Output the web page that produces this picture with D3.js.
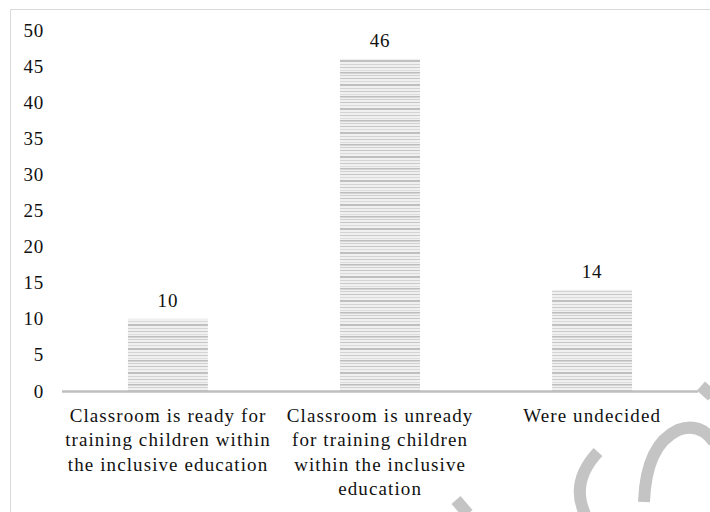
<!DOCTYPE html>
<html>
<head>
<meta charset="utf-8">
<script src="https://cdn.jsdelivr.net/npm/d3@7"></script>
<style>
  html, body { margin: 0; padding: 0; background: #fff; }
  svg { display: block; }
</style>
</head>
<body>
<script>
// chart values
const categories = [
  ["Classroom is ready for", "training children within", "the inclusive education"],
  ["Classroom is unready", "for training children", "within the inclusive", "education"],
  ["Were undecided"]
];
const values = [10, 46, 14];
const yTicks = [0, 5, 10, 15, 20, 25, 30, 35, 40, 45, 50];

const width = 710, height = 512;
const margin = {top: 30, right: 12, bottom: 121, left: 62};
const serif = "'Liberation Serif', 'Times New Roman', serif";

const svg = d3.select("body").append("svg")
    .attr("width", width)
    .attr("height", height)
    .style("font-family", serif);

// striped bar fill
const defs = svg.append("defs");
const pat = defs.append("pattern")
    .attr("id", "stripes")
    .attr("patternUnits", "userSpaceOnUse")
    .attr("width", 8)
    .attr("height", 24);
pat.append("rect").attr("width", 8).attr("height", 24).attr("fill", "#f0f0f0");
[[0, "#bdbdbd", 1.5], [3, "#d2d2d2", 1], [6, "#c6c6c6", 1], [9, "#dadada", 1],
 [12, "#c0c0c0", 2], [16, "#d4d4d4", 1], [19, "#cacaca", 1], [22, "#dedede", 1]]
  .forEach(([y, c, h]) => pat.append("rect").attr("y", y).attr("width", 8).attr("height", h).attr("fill", c));

// frame
svg.append("path")
    .attr("d", `M10.5,${height}V9.5H${width}`)
    .attr("fill", "none")
    .attr("stroke", "#d9d9d9")
    .attr("stroke-width", 1);

const x = d3.scaleBand()
    .domain(d3.range(values.length))
    .range([margin.left, width - margin.right])
    .paddingInner(0.623)
    .paddingOuter(0.311);

const y = d3.scaleLinear()
    .domain([0, 50])
    .range([height - margin.bottom, margin.top]);

// y axis labels (no line, no ticks)
const yAxis = svg.append("g")
    .attr("transform", `translate(${margin.left - 18},0)`)
    .call(d3.axisLeft(y).tickValues(yTicks).tickSize(0).tickPadding(0));
yAxis.attr("font-family", serif);
yAxis.select(".domain").remove();
yAxis.selectAll("text")
    .attr("font-size", 19)
    .attr("letter-spacing", 0.8)
    .attr("fill", "#111");

// bars
svg.append("g").selectAll("rect")
  .data(values)
  .join("rect")
    .attr("x", (d, i) => x(i))
    .attr("y", d => y(d))
    .attr("width", x.bandwidth())
    .attr("height", d => y(0) - y(d))
    .attr("fill", "url(#stripes)");

// value labels
svg.append("g").selectAll("text")
  .data(values)
  .join("text")
    .attr("x", (d, i) => x(i) + x.bandwidth() / 2)
    .attr("y", d => y(d) - 12)
    .attr("text-anchor", "middle")
    .attr("font-size", 19)
    .attr("letter-spacing", 0.8)
    .attr("fill", "#111")
    .text(d => d);

// baseline
svg.append("line")
    .attr("x1", margin.left)
    .attr("x2", width - margin.right)
    .attr("y1", y(0) + 0.5)
    .attr("y2", y(0) + 0.5)
    .attr("stroke", "#bfbfbf")
    .attr("stroke-width", 2.5);

// category labels
const xStep = x.step();
const cat = svg.append("g").selectAll("text")
  .data(categories)
  .join("text")
    .attr("text-anchor", "middle")
    .attr("font-size", 19)
    .attr("letter-spacing", 1.1)
    .attr("fill", "#111");
cat.each(function(lines, i) {
  const cx = margin.left + xStep * (i + 0.5);
  d3.select(this).selectAll("tspan")
    .data(lines)
    .join("tspan")
      .attr("x", cx)
      .attr("y", (d, j) => y(0) + 31 + j * 24.3)
      .text(d => d);
});

// watermark strokes
const wm = [
  "M598,452 Q570,482 585,514",
  "M644,502 Q646,445 678,430 Q700,422 714,442",
  "M456,500 L468,514",
  "M701,386 L712,396"
];
svg.append("g").selectAll("path")
  .data(wm)
  .join("path")
    .attr("d", d => d)
    .attr("fill", "none")
    .attr("stroke", "#c4c4c4")
    .attr("stroke-width", 12)
    .attr("stroke-linecap", "butt");
</script>
</body>
</html>
